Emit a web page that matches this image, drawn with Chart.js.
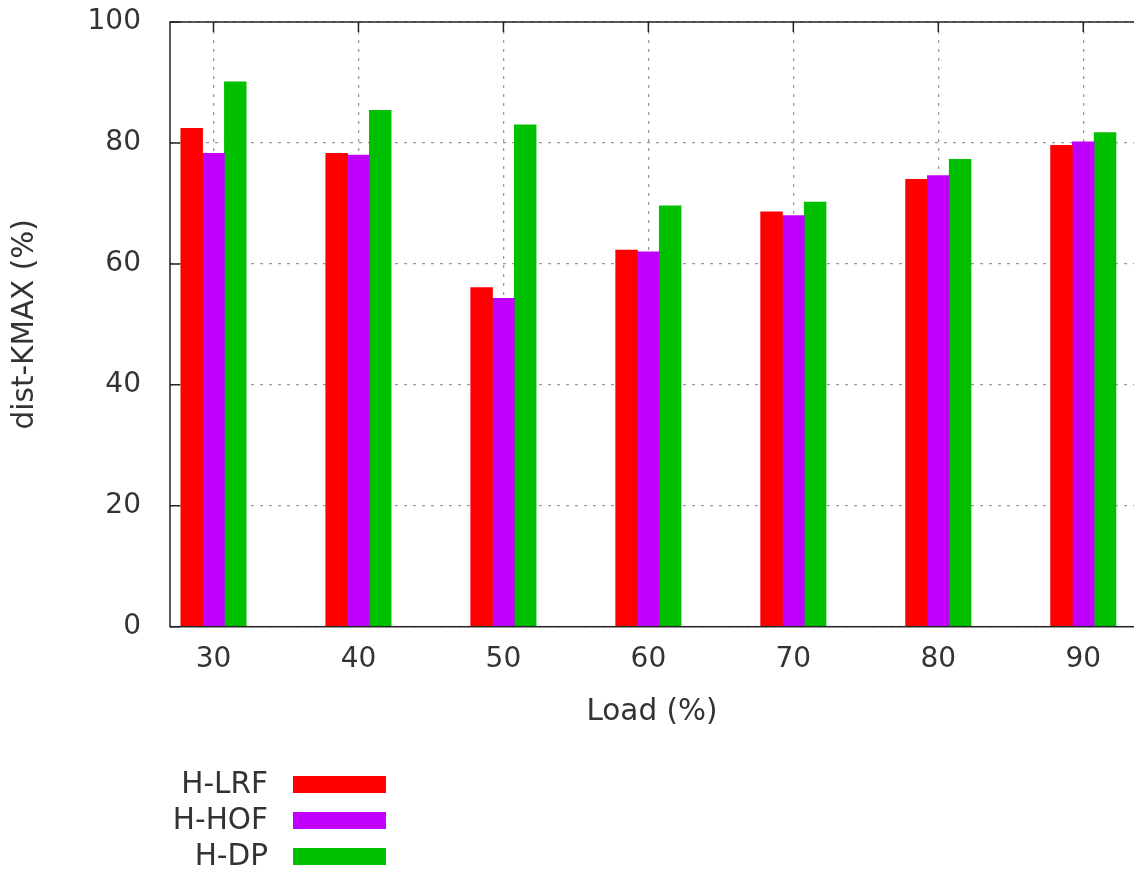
<!DOCTYPE html>
<html>
<head>
<meta charset="utf-8">
<script src="https://cdn.jsdelivr.net/npm/chart.js@4.4.1/dist/chart.umd.min.js"></script>
<style>
  html, body { margin: 0; padding: 0; background: #ffffff; }
  #wrap { width: 1134px; height: 870px; }
</style>
</head>
<body>
<div id="wrap"><canvas id="c" width="1134" height="870"></canvas></div>
<script>
// ---- data ----
const categories = [30, 40, 50, 60, 70, 80, 90];
const seriesNames = ['H-LRF', 'H-HOF', 'H-DP'];
const hLRF = [82.4, 78.3, 56.1, 62.3, 68.6, 74.0, 79.6];
const hHOF = [78.3, 78.0, 54.3, 62.0, 68.0, 74.6, 80.2];
const hDP  = [90.1, 85.4, 83.0, 69.6, 70.2, 77.3, 81.7];
const yTickValues = [0, 20, 40, 60, 80, 100];
const xTitle = 'Load (%)';
const yTitle = 'dist-KMAX (%)';

const seriesValues = [hLRF, hHOF, hDP];
const seriesColors = ['#ff0000', '#c000ff', '#00c000'];

const FONT = 'DejaVu Sans';
const TEXT = '#333333';

const framePlugin = {
  id: 'frame',
  beforeDatasetsDraw(chart) {
    const { ctx, chartArea: a, scales } = chart;
    ctx.save();
    ctx.strokeStyle = '#222';
    ctx.lineWidth = 1.5;
    ctx.beginPath();
    yTickValues.forEach(v => {
      const y = scales.y.getPixelForValue(v);
      ctx.moveTo(a.left, y); ctx.lineTo(a.left + 10, y);
    });
    categories.forEach(v => {
      const x = scales.x.getPixelForValue(v);
      ctx.moveTo(x, a.top); ctx.lineTo(x, a.top + 10);
      ctx.moveTo(x, a.bottom); ctx.lineTo(x, a.bottom - 10);
    });
    ctx.stroke();
    ctx.restore();
  },
  afterDatasetsDraw(chart) {
    const { ctx, chartArea: a } = chart;
    ctx.save();
    ctx.strokeStyle = '#222';
    ctx.lineWidth = 1.5;
    ctx.strokeRect(a.left, a.top, a.right - a.left + 5, a.bottom - a.top);
    ctx.restore();
  }
};

const legendPlugin = {
  id: 'sideLegend',
  afterDraw(chart) {
    const { ctx } = chart;
    ctx.save();
    ctx.font = '29.5px "' + FONT + '"';
    ctx.textAlign = 'right';
    ctx.textBaseline = 'middle';
    chart.data.datasets.forEach((ds, i) => {
      const cy = 784.5 + 36 * i;
      ctx.fillStyle = TEXT;
      ctx.fillText(ds.label, 268, cy + 1);
      ctx.fillStyle = ds.backgroundColor;
      ctx.fillRect(293, cy - 8.5, 93, 17);
    });
    ctx.restore();
  }
};

new Chart(document.getElementById('c').getContext('2d'), {
  type: 'bar',
  data: {
    datasets: seriesNames.map((name, i) => ({
      label: name,
      data: categories.map((c, j) => ({ x: c, y: seriesValues[i][j] })),
      backgroundColor: seriesColors[i],
      borderWidth: 0,
      barThickness: 21.8
    }))
  },
  options: {
    responsive: false,
    animation: false,
    devicePixelRatio: 1,
    layout: { padding: { top: 22, left: 0, right: 0, bottom: 0 } },
    plugins: { legend: { display: false }, tooltip: { enabled: false } },
    scales: {
      x: {
        type: 'linear',
        offset: false,
        min: 27,
        max: 93.5,
        afterBuildTicks: s => { s.ticks = categories.map(v => ({ value: v })); },
        afterFit: s => { s.height = 243.3; },
        grid: { color: '#9a9a9a', lineWidth: 1.3, drawTicks: false, offset: false },
        border: { display: false, dash: [3, 6] },
        ticks: { font: { family: FONT, size: 28 }, color: TEXT, padding: 16, maxRotation: 0 },
        title: { display: true, text: xTitle, font: { family: FONT, size: 29.5 }, color: TEXT, padding: { top: 0, bottom: 140 } }
      },
      y: {
        min: 0,
        max: 100,
        afterBuildTicks: s => { s.ticks = yTickValues.map(v => ({ value: v })); },
        afterFit: s => { s.width = 170; },
        grid: { color: '#9a9a9a', lineWidth: 1.3, drawTicks: true, tickLength: 25, tickColor: 'rgba(0,0,0,0)' },
        border: { display: false, dash: [3, 6] },
        ticks: { font: { family: FONT, size: 28 }, color: TEXT, padding: 4 },
        title: { display: true, text: yTitle, font: { family: FONT, size: 29.5 }, color: TEXT, padding: { top: 8, bottom: 0 } }
      }
    }
  },
  plugins: [framePlugin, legendPlugin]
});
</script>
</body>
</html>
